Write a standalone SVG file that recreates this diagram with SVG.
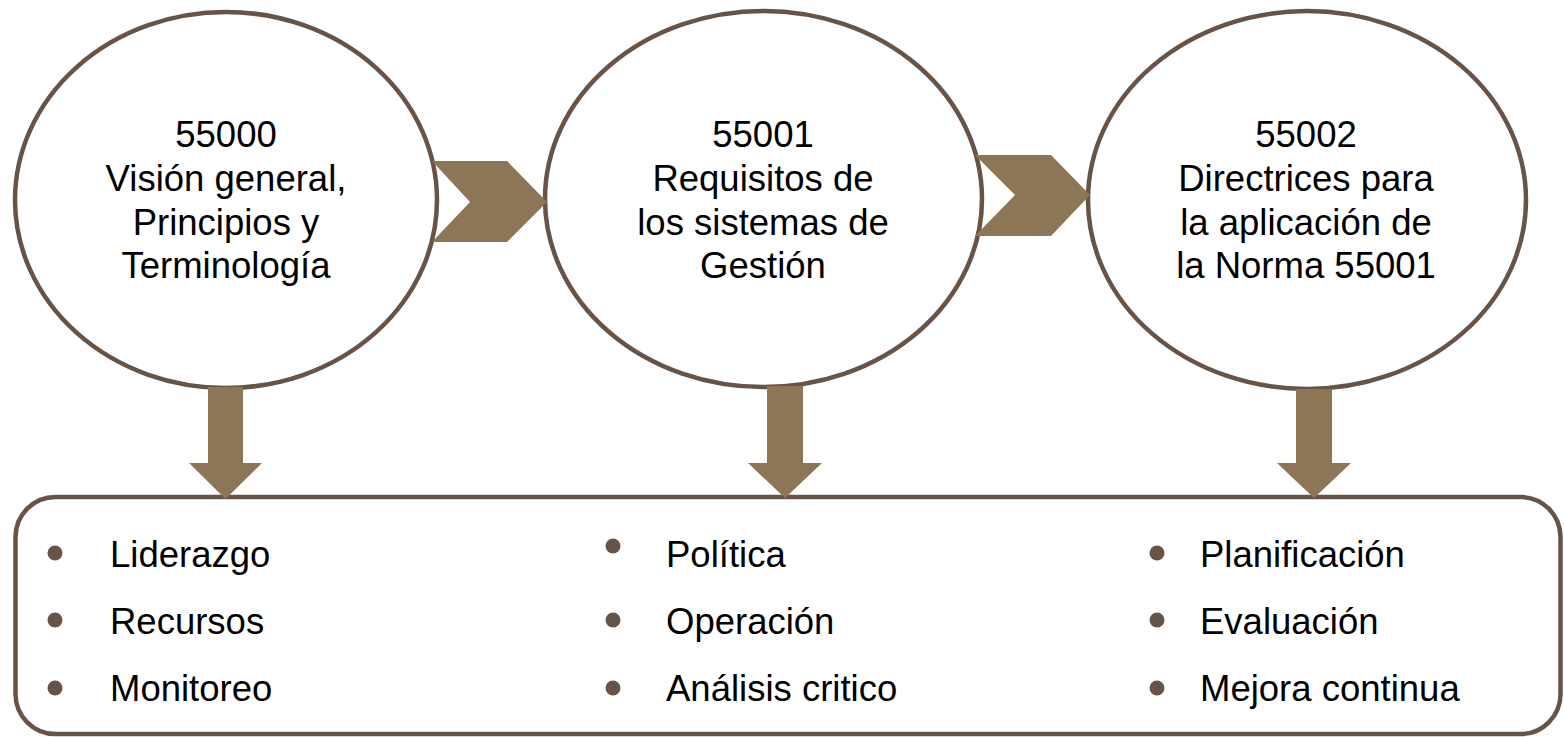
<svg xmlns="http://www.w3.org/2000/svg" width="1564" height="737" viewBox="0 0 1564 737">
<style>
.node{fill:#ffffff;stroke:#675446;stroke-width:4.5}
.arr{fill:#8d7656;stroke:none}
.t{font-family:"Liberation Sans",Arial,sans-serif;font-size:36.5px;fill:#000000}
.c{text-anchor:middle}
.b{fill:#675446}
</style>
<rect width="1564" height="737" fill="#ffffff"/>
<g id="list-box">
<rect class="node" x="15.5" y="497" width="1545" height="237" rx="40" ry="40"/>
<g id="col1">
<circle class="b" cx="55" cy="553" r="7.5"/><text class="t" x="110" y="567">Liderazgo</text>
<circle class="b" cx="55" cy="620" r="7.5"/><text class="t" x="110" y="634">Recursos</text>
<circle class="b" cx="55" cy="688" r="7.5"/><text class="t" x="110" y="701">Monitoreo</text>
</g>
<g id="col2">
<circle class="b" cx="613" cy="546" r="7.5"/><text class="t" x="666" y="567">Política</text>
<circle class="b" cx="613" cy="620" r="7.5"/><text class="t" x="666" y="634">Operación</text>
<circle class="b" cx="613" cy="688" r="7.5"/><text class="t" x="666" y="701">Análisis critico</text>
</g>
<g id="col3">
<circle class="b" cx="1157" cy="553" r="7.5"/><text class="t" x="1200" y="567">Planificación</text>
<circle class="b" cx="1157" cy="620" r="7.5"/><text class="t" x="1200" y="634">Evaluación</text>
<circle class="b" cx="1157" cy="688" r="7.5"/><text class="t" x="1200" y="701">Mejora continua</text>
</g>
</g>
<g id="n55000">
<ellipse class="node" cx="226" cy="200" rx="211" ry="188"/>
<text class="t c" x="226" y="147">55000</text>
<text class="t c" x="226" y="191">Visión general,</text>
<text class="t c" x="226" y="235">Principios y</text>
<text class="t c" x="226" y="278">Terminología</text>
</g>
<g id="n55001">
<ellipse class="node" cx="763.5" cy="199" rx="218.5" ry="188"/>
<text class="t c" x="763" y="147">55001</text>
<text class="t c" x="763" y="191">Requisitos de</text>
<text class="t c" x="763" y="235">los sistemas de</text>
<text class="t c" x="763" y="278">Gestión</text>
</g>
<g id="n55002">
<ellipse class="node" cx="1307" cy="200" rx="219" ry="189"/>
<text class="t c" x="1306" y="147">55002</text>
<text class="t c" x="1306" y="191">Directrices para</text>
<text class="t c" x="1306" y="235">la aplicación de</text>
<text class="t c" x="1306" y="278">la Norma 55001</text>
</g>
<g id="connectors">
<polygon class="arr" points="432,161 507,161 547,202 507,242 432,242 470,202"/>
<polygon class="arr" points="975,155 1051,155 1090,195 1051,236 975,236 1015,195"/>
<polygon class="arr" points="208,387 243,387 243,463 262,463 225.5,499 189,463 208,463"/>
<polygon class="arr" points="767,386 803,386 803,463 822,463 785,498 748,463 767,463"/>
<polygon class="arr" points="1296,389 1332,389 1332,463 1351,463 1314,498 1277,463 1296,463"/>
</g>
</svg>
